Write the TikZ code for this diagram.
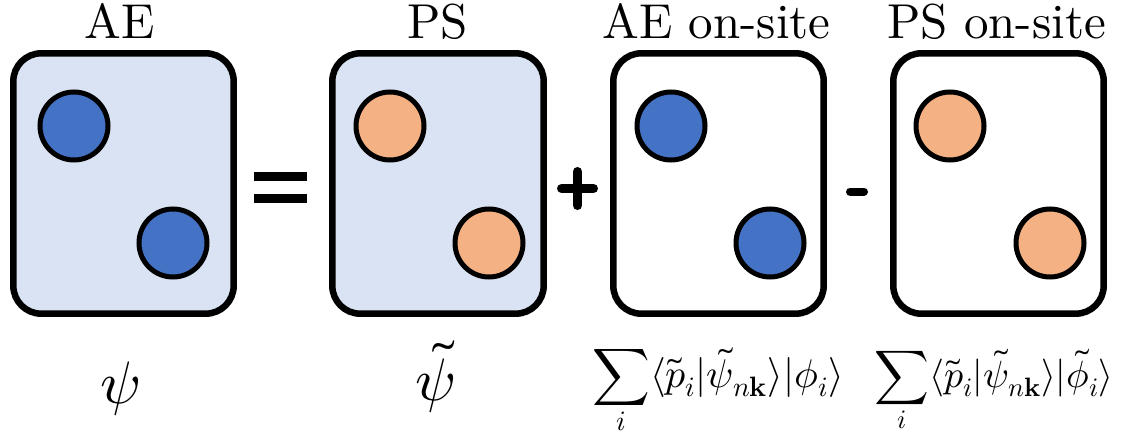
\documentclass[tikz,border=0pt]{standalone}
\usepackage{unicode-math}
\setmainfont{lmroman10-regular}[Extension=.otf]
\setmathfont{Latin Modern Math}
\definecolor{boxfill}{HTML}{DAE3F3}
\definecolor{aeblue}{HTML}{4472C4}
\definecolor{psorange}{HTML}{F4B183}
\tikzset{
  panel/.style={draw=black, line width=6.5pt, rounded corners=28pt, minimum height=260.4pt, inner sep=0pt},
  atom/.style={circle, draw=black, line width=5pt, minimum size=68pt, inner sep=0pt},
  aeatom/.style={atom, fill=aeblue},
  psatom/.style={atom, fill=psorange},
  title/.style={anchor=base, inner sep=0pt, font=\fontsize{49}{52}\selectfont},
  formula/.style={anchor=base, inner sep=0pt},
  opbar/.style={line width=9pt, line cap=round}
}
\begin{document}
\begin{tikzpicture}[x=1pt, y=-1pt]
\useasboundingbox (0,0) rectangle (1129,436);
% panels
\node[panel, fill=boxfill, minimum width=220.4pt] (b1) at (123.5,183.5) {};
\node[panel, fill=boxfill, minimum width=211.4pt] (b2) at (438,183.5) {};
\node[panel, fill=white, minimum width=210.4pt] (b3) at (718.5,183.5) {};
\node[panel, fill=white, minimum width=210.4pt] (b4) at (998.5,183.5) {};
% atoms
\node[aeatom] (a1) at (74,126) {};
\node[aeatom] (a2) at (173,243) {};
\node[psatom] (p1) at (390,126) {};
\node[psatom] (p2) at (489,243) {};
\node[aeatom] (a3) at (671,126) {};
\node[aeatom] (a4) at (770,243) {};
\node[psatom] (p3) at (950,126) {};
\node[psatom] (p4) at (1050,243) {};
% titles
\node[title] (t1) at (120,39) {AE};
\node[title] (t2) at (437.5,39) {PS};
\node[title] (t3) at (716.5,39) {AE on-site};
\node[title] (t4) at (996.5,39) {PS on-site};
% operators
\fill (254,172) rectangle (307,181);
\fill (254,194) rectangle (307,203);
\coordinate (plusL) at (561.5,188.5);
\coordinate (plusR) at (593.5,188.5);
\coordinate (plusT) at (577.5,171.5);
\coordinate (plusB) at (577.5,205.5);
\draw[opbar] (plusL) -- (plusR);
\draw[opbar] (plusT) -- (plusB);
\coordinate (minL) at (850,191.5);
\coordinate (minR) at (864,191.5);
\draw[opbar, line width=8pt] (minL) -- (minR);
% formulas
\node[formula, font=\fontsize{60}{60}\selectfont] (f1) at (120,403) {$\psi$};
\node[formula, font=\fontsize{60}{60}\selectfont] (f2) at (435,400) {$\tilde{\psi}$};
\node[formula, font=\fontsize{40}{40}\selectfont] (f3) at (718,387)
  {$\displaystyle\sum_i \langle\tilde{p}_i|\tilde{\psi}_{n\symbf{k}}\rangle|\phi_i\rangle$};
\node[formula, font=\fontsize{38}{38}\selectfont] (f4) at (994,387)
  {$\displaystyle\sum_i \langle\tilde{p}_i|\tilde{\psi}_{n\symbf{k}}\rangle|\tilde{\phi}_i\rangle$};
\end{tikzpicture}
\end{document}
